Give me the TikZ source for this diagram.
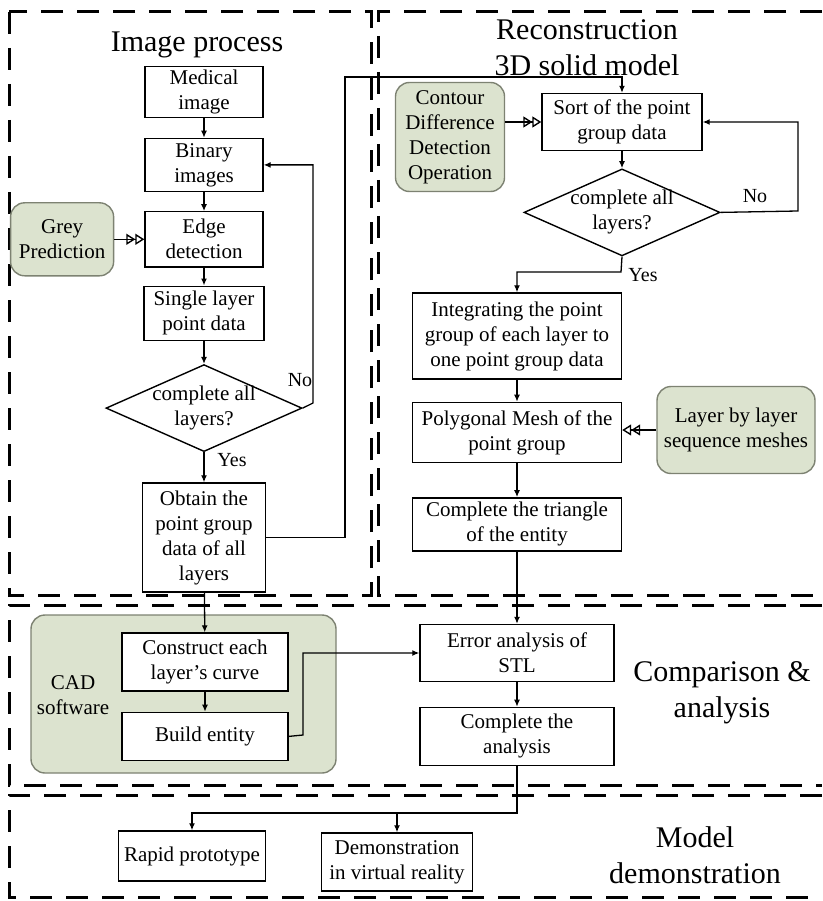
\documentclass[tikz,border=0pt]{standalone}
\usepackage{fontspec}
\setmainfont{Liberation Serif}
\usetikzlibrary{positioning,arrows.meta,shapes.geometric}
\definecolor{sage}{HTML}{DCE3CF}
\definecolor{sageline}{HTML}{7D8272}
\newcommand{\boxfont}{\fontsize{21}{25}\selectfont}
\newcommand{\headfont}{\fontsize{30}{36}\selectfont}
\tikzset{
  box/.style={draw, line width=1.4pt, fill=white, align=center, font=\boxfont, inner sep=3pt},
  aid/.style={box, draw=sageline, fill=sage, rounded corners=14pt},
  ask/.style={diamond, draw, line width=1.4pt, minimum width=196pt, minimum height=87pt, inner sep=0pt},
  head/.style={align=center, font=\headfont},
  tag/.style={font=\fontsize{20}{24}\selectfont},
  zone/.style={line width=3pt, dash pattern=on 22pt off 14pt},
  arr/.style={-{Latex[length=7pt,width=6pt]}, line width=1.3pt},
  hint/.style={-{Triangle[open,length=9pt,width=11pt]Triangle[open,length=9pt,width=11pt]}, line width=1.4pt}}

\begin{document}
\begin{tikzpicture}[x=1pt, y=-1pt]
\useasboundingbox (0,0) rectangle (822,901);
% dashed zones
\draw[zone] (9,12) rectangle (371,595);
\draw[zone] (822,12) -- (378,12) -- (378,595) -- (822,595);
\draw[zone] (822,605) -- (9,605) -- (9,785) -- (822,785);
\draw[zone] (822,795) -- (9,795) -- (9,897) -- (822,897);
\node[head] (t1) at (197,45) {Image process};
\node[head] (t2) at (587,48) {Reconstruction\\3D solid model};
\node[head] (t3) at (722,693) {Comparison \&\\analysis};
\node[head] (t4) at (695,855) {Model\\demonstration};

% image process
\node[box, minimum width=118pt, minimum height=51pt] (med) at (204,92) {Medical\\image};
\node[box, minimum width=118pt, minimum height=53pt, below=19.5pt of med] (bin) {Binary\\images};
\node[box, minimum width=118pt, minimum height=55pt, below=19pt of bin] (edge) {Edge\\detection};
\node[box, minimum width=120pt, minimum height=54pt, below=18pt of edge] (single) {Single layer\\point data};
\node[ask, below=23pt of single] (q1) {};
\node[font=\boxfont, align=center] (q1t) at (q1) {complete all\\layers?};
\node[box, minimum width=123pt, minimum height=109pt, below=30pt of q1] (obtain) {Obtain the\\point group\\data of all\\layers};
\node[aid, minimum width=103pt, minimum height=73pt, left=30pt of edge] (grey) {Grey\\Prediction};
\draw[arr] (med) -- (bin);
\draw[arr] (bin) -- (edge);
\draw[arr] (edge) -- (single);
\draw[arr] (single) -- (q1);
\draw[arr] (q1) -- (obtain);
\draw[arr] (q1.east) -- (313,403) |- (bin.east);
\draw[hint] (grey.east) -- (grey.east -| edge.west);
\node[tag] (no1) at (300,380) {No};
\node[tag] (yes1) at (232,460) {Yes};

% reconstruction
\node[box, minimum width=160pt, minimum height=57pt] (sort) at (622,122) {Sort of the point\\group data};
\node[ask, below=17pt of sort] (q2) {};
\node[font=\boxfont, align=center] (q2t) at (q2) {complete all\\layers?};
\node[aid, minimum width=109pt, minimum height=109pt] (contour) at (450,137) {Contour\\Difference\\Detection\\Operation};
\node[box, minimum width=209pt, minimum height=86pt] (integ) at (517,336) {Integrating the point\\group of each layer to\\one point group data};
\node[box, minimum width=209pt, minimum height=60pt, below=22pt of integ] (poly) {Polygonal Mesh of the\\point group};
\node[box, minimum width=209pt, minimum height=53pt, below=34pt of poly] (tri) {Complete the triangle\\of the entity};
\node[aid, minimum width=158pt, minimum height=87pt] (layer) at (736,430) {Layer by layer\\sequence meshes};
\draw[arr] (obtain.east) -| (345,77) -| (sort.north);
\draw[hint] (contour.east |- sort.west) -- (sort.west);
\draw[arr] (sort) -- (q2);
\draw[arr] (q2.east) -- (798,211) |- (sort.east);
\draw[arr] (q2.south) -- (621,272) -| (integ.north);
\draw[arr] (integ) -- (poly);
\draw[hint] (layer.west) -- (layer.west -| poly.east);
\draw[arr] (poly) -- (tri);
\node[tag] (no2) at (755,196) {No};
\node[tag] (yes2) at (643,275) {Yes};

% comparison and analysis
\node[aid, minimum width=305pt, minimum height=158pt] (cad) at (183.5,694) {};
\node[font=\boxfont, align=center] (cadt) at (73,695) {CAD\\software};
\node[box, minimum width=166pt, minimum height=58pt] (constr) at (205,662) {Construct each\\layer's curve};
\node[box, minimum width=166pt, minimum height=48pt, below=20pt of constr] (build) {Build entity};
\node[box, minimum width=194pt, minimum height=57pt] (err) at (517,653) {Error analysis of\\STL};
\node[box, minimum width=194pt, minimum height=58pt, below=24.5pt of err] (compl) {Complete the\\analysis};
\draw[arr] (tri) -- (err);
\draw[arr] (obtain) -- (constr);
\draw[arr] (constr) -- (build);
\draw[arr] (build.east) -- (303,735) |- (err.west);
\draw[arr] (err) -- (compl);

% model demonstration
\node[box, minimum width=147pt, minimum height=50pt] (rapid) at (192,856) {Rapid prototype};
\node[box, minimum width=151pt, minimum height=58pt] (demo) at (397,862) {Demonstration\\in virtual reality};
\coordinate (fork) at (517,813);
\draw[arr] (compl.south) -- (fork) -| (rapid.north);
\draw[arr] (fork -| demo.north) -- (demo.north);
\end{tikzpicture}
\end{document}
